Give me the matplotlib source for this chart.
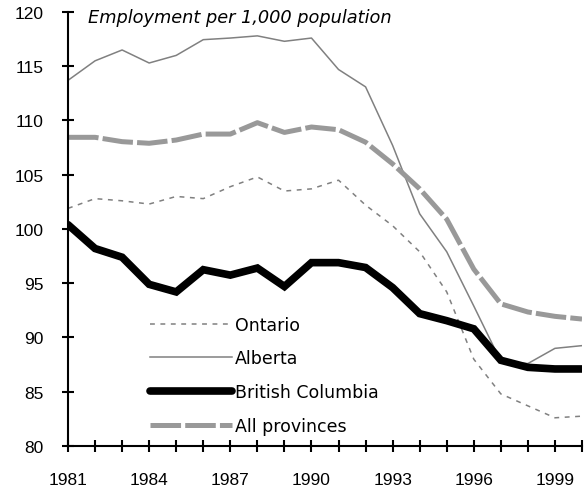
import matplotlib.pyplot as plt

plt.rcParams['font.family'] = ['Liberation Sans', 'DejaVu Sans']
plt.rcParams['lines.scale_dashes'] = False

# data
years = list(range(1981, 2001))
ontario = [101.9, 102.8, 102.6, 102.3, 103.0, 102.8, 103.9, 104.8, 103.5, 103.7,
           104.5, 102.2, 100.3, 97.9, 94.2, 88.0, 84.8, 83.7, 82.6, 82.75]
alberta = [113.7, 115.5, 116.5, 115.3, 116.0, 117.45, 117.6, 117.8, 117.3, 117.6,
           114.7, 113.1, 107.7, 101.4, 97.9, 92.9, 87.8, 87.6, 89.0, 89.25]
bc = [100.4, 98.2, 97.4, 94.9, 94.2, 96.25, 95.75, 96.4, 94.7, 96.9,
      96.9, 96.45, 94.6, 92.2, 91.55, 90.8, 87.9, 87.25, 87.1, 87.1]
all_prov = [108.45, 108.45, 108.05, 107.9, 108.2, 108.75, 108.75, 109.8, 108.9, 109.4,
            109.15, 108.0, 106.0, 103.7, 100.9, 96.3, 93.1, 92.35, 91.95, 91.7]
xtick_labels = ['1981', '1984', '1987', '1990', '1993', '1996', '1999']
yticks = [80, 85, 90, 95, 100, 105, 110, 115, 120]

fig = plt.figure(figsize=(5.84, 4.89), dpi=100)
ax = fig.add_axes([68/584, 1-447/489, 514/584, 434/489])

ax.plot(years, ontario, color='#808080', lw=1.1, dashes=(3.5, 4), label='Ontario')
ax.plot(years, alberta, color='#808080', lw=1.1, label='Alberta')
ax.plot(years, bc, color='black', lw=5.5, solid_capstyle='round',
        solid_joinstyle='miter', label='British Columbia')
ax.plot(years, all_prov, color='#999999', lw=3.6, dashes=(22, 3), label='All provinces')

ax.set_xlim(1981, 2000)
ax.set_ylim(80, 120)
ax.set_xticks(years)
ax.set_xticklabels([str(y) if str(y) in xtick_labels else '' for y in years])
ax.set_yticks(yticks)

for s in ['top', 'right']:
    ax.spines[s].set_visible(False)
for s in ['left', 'bottom']:
    ax.spines[s].set_linewidth(1.5)
ax.tick_params(direction='inout', length=8.5, width=1.5, labelsize=12.5)
ax.tick_params(axis='y', pad=13.5)
ax.tick_params(axis='x', pad=14.5)

fig.text(88/584, 1-18/489, 'Employment per 1,000 population', fontsize=12.8,
         style='italic', va='center', ha='left', family='DejaVu Sans')

leg = ax.legend(loc='upper left', bbox_to_anchor=(0.1595, 0.30), frameon=False,
                prop={'family': 'DejaVu Sans', 'size': 12.5},
                handlelength=4.72, handletextpad=0.17, labelspacing=0.9,
                borderpad=0, borderaxespad=0)

plt.savefig('out.png')
